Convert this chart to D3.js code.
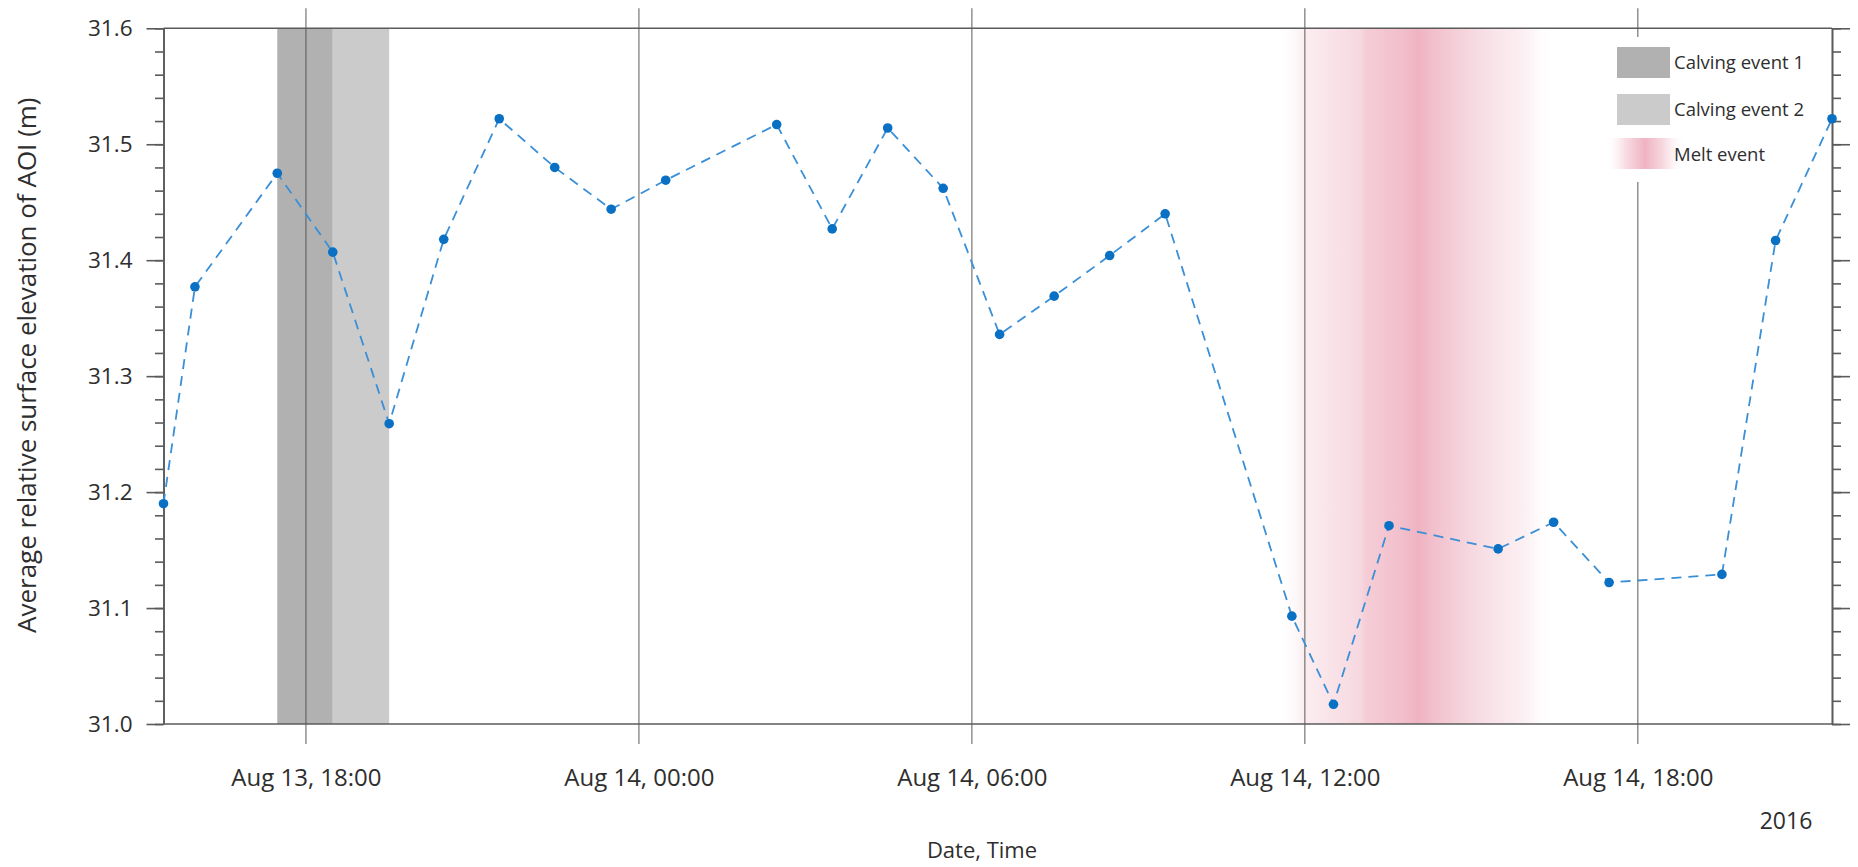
<!DOCTYPE html>
<html>
<head>
<meta charset="utf-8">
<script src="https://cdn.jsdelivr.net/npm/d3@7"></script>
<style>
  html, body { margin: 0; padding: 0; background: #fff; }
  svg { display: block; font-family: "Open Sans", "Noto Sans", sans-serif; }
</style>
</head>
<body>
<svg id="chart" width="1858" height="867"></svg>
<script>
// Observation times (UTC, 2016) and mean relative surface elevation of the AOI
const obsTimes = [
  "2016-08-13 15:26", "2016-08-13 16:00", "2016-08-13 17:29", "2016-08-13 18:29",
  "2016-08-13 19:30", "2016-08-13 20:29", "2016-08-13 21:29", "2016-08-13 22:29",
  "2016-08-13 23:30", "2016-08-14 00:29", "2016-08-14 02:29", "2016-08-14 03:29",
  "2016-08-14 04:29", "2016-08-14 05:29", "2016-08-14 06:30", "2016-08-14 07:29",
  "2016-08-14 08:29", "2016-08-14 09:29", "2016-08-14 11:46", "2016-08-14 12:31",
  "2016-08-14 13:31", "2016-08-14 15:29", "2016-08-14 16:29", "2016-08-14 17:29",
  "2016-08-14 19:31", "2016-08-14 20:29", "2016-08-14 21:30"
];
const elevation = [
  31.190, 31.377, 31.475, 31.407,
  31.259, 31.418, 31.522, 31.480,
  31.444, 31.469, 31.517, 31.427,
  31.514, 31.462, 31.336, 31.369,
  31.404, 31.440, 31.093, 31.017,
  31.171, 31.151, 31.174, 31.122,
  31.129, 31.417, 31.522
];

// Event windows
const calving1 = ["2016-08-13 17:29", "2016-08-13 18:29"];
const calving2 = ["2016-08-13 18:29", "2016-08-13 19:30"];
const meltWindow = ["2016-08-14 11:30", "2016-08-14 16:30"];

// Axis ticks
const xTickTimes = ["2016-08-13 18:00", "2016-08-14 00:00", "2016-08-14 06:00", "2016-08-14 12:00", "2016-08-14 18:00"];
const xTickLabels = ["Aug 13, 18:00", "Aug 14, 00:00", "Aug 14, 06:00", "Aug 14, 12:00", "Aug 14, 18:00"];
const yMajorTicks = [31.0, 31.1, 31.2, 31.3, 31.4, 31.5, 31.6];
const yMinorTicks = d3.range(0, 31).map(i => +(31 + i * 0.02).toFixed(2));

const legendLabels = ["Calving event 1", "Calving event 2", "Melt event"];

const parse = d3.timeParse("%Y-%m-%d %H:%M");
const data = obsTimes.map((t, i) => ({ t: parse(t), v: elevation[i] }));

const svg = d3.select("#chart");
const L = 163.5, R = 1832, T = 28.3, B = 724;

const x = d3.scaleTime().domain(d3.extent(data, d => d.t)).range([L, R]);
const y = d3.scaleLinear().domain([31.0, 31.6]).range([B, T]);

const axisColor = "#5b5b5b";
const textColor = "#2e2e2e";

// Melt gradient
const defs = svg.append("defs");
const meltGrad = defs.append("linearGradient").attr("id", "meltGrad")
  .attr("x1", "0%").attr("x2", "100%").attr("y1", "0%").attr("y2", "0%");
[
  [0.00, "#ffffff", 0], [0.10, "#fbedf0", 1], [0.30, "#f7d8e0", 1], [0.32, "#f5cdd7", 1],
  [0.45, "#f2bfcc", 1], [0.51, "#efb3c2", 1], [0.57, "#f2c1cd", 1], [0.66, "#f5d2db", 1],
  [0.77, "#f8e2e8", 1], [0.90, "#fcf1f4", 1], [1.00, "#ffffff", 0]
].forEach(([o, c, a]) => meltGrad.append("stop").attr("offset", o).attr("stop-color", c).attr("stop-opacity", a));

const legGrad = defs.append("linearGradient").attr("id", "legGrad")
  .attr("x1", "0%").attr("x2", "100%");
[
  [0.00, "#ffffff", 0], [0.25, "#f8dde4", 1], [0.50, "#efb3c2", 1], [0.75, "#f8dde4", 1], [1.00, "#ffffff", 0]
].forEach(([o, c, a]) => legGrad.append("stop").attr("offset", o).attr("stop-color", c).attr("stop-opacity", a));

// Event bands
const bands = svg.append("g");
bands.append("rect")
  .attr("x", x(parse(meltWindow[0]))).attr("width", x(parse(meltWindow[1])) - x(parse(meltWindow[0])))
  .attr("y", T).attr("height", B - T).attr("fill", "url(#meltGrad)");
bands.append("rect")
  .attr("x", x(parse(calving1[0]))).attr("width", x(parse(calving1[1])) - x(parse(calving1[0])))
  .attr("y", T).attr("height", B - T).attr("fill", "#b1b1b1");
bands.append("rect")
  .attr("x", x(parse(calving2[0]))).attr("width", x(parse(calving2[1])) - x(parse(calving2[0])))
  .attr("y", T).attr("height", B - T).attr("fill", "#cbcbcb");

// Vertical grid lines at the time ticks (they run a little past the frame)
svg.append("g").selectAll("line").data(xTickTimes.map(parse)).join("line")
  .attr("x1", d => x(d)).attr("x2", d => x(d))
  .attr("y1", T - 20).attr("y2", B + 20)
  .attr("stroke", "#555").attr("stroke-opacity", 0.65).attr("stroke-width", 1.5);

// Legend background hides the grid line behind it
svg.append("rect").attr("x", 1600).attr("y", 37).attr("width", 200).attr("height", 145).attr("fill", "#fff");

// Frame
const frame = svg.append("g").attr("stroke", axisColor).attr("stroke-width", 1.6);
frame.append("line").attr("x1", L).attr("x2", R).attr("y1", T).attr("y2", T);
frame.append("line").attr("x1", L).attr("x2", R).attr("y1", B).attr("y2", B);

// Y axes: major and minor ticks on both sides
function styleAxis(g) {
  g.selectAll(".domain").attr("stroke", axisColor).attr("stroke-width", 1.6);
  g.selectAll(".tick line").attr("stroke", axisColor).attr("stroke-width", 1.6);
}
svg.append("g").attr("transform", `translate(${L},0)`)
  .call(d3.axisLeft(y).tickValues(yMinorTicks).tickSize(8.5).tickFormat("").tickSizeOuter(0))
  .call(styleAxis);
svg.append("g").attr("transform", `translate(${R},0)`)
  .call(d3.axisRight(y).tickValues(yMinorTicks).tickSize(9).tickFormat("").tickSizeOuter(0))
  .call(styleAxis);
const yLeft = svg.append("g").attr("transform", `translate(${L},0)`)
  .call(d3.axisLeft(y).tickValues(yMajorTicks).tickSize(17).tickPadding(14).tickFormat(d3.format(".1f")).tickSizeOuter(0))
  .call(styleAxis);
yLeft.selectAll("text").attr("fill", textColor).attr("font-size", 22.5).attr("font-family", "Open Sans");
svg.append("g").attr("transform", `translate(${R},0)`)
  .call(d3.axisRight(y).tickValues(yMajorTicks).tickSize(18).tickFormat("").tickSizeOuter(0))
  .call(styleAxis);

// X axis labels
const xAxis = svg.append("g").attr("transform", `translate(0,${B})`)
  .call(d3.axisBottom(x).tickValues(xTickTimes.map(parse))
    .tickFormat((d, i) => xTickLabels[i]).tickSize(0).tickPadding(45));
xAxis.select(".domain").remove();
xAxis.selectAll("text").attr("fill", textColor).attr("font-size", 24).attr("font-family", "Open Sans");

// Data series: dashed line with dots
svg.append("path").datum(data)
  .attr("d", d3.line().x(d => x(d.t)).y(d => y(d.v)))
  .attr("fill", "none").attr("stroke", "#3a8fd6").attr("stroke-width", 1.8)
  .attr("stroke-dasharray", "10,7");
svg.append("g").selectAll("circle").data(data).join("circle")
  .attr("cx", d => x(d.t)).attr("cy", d => y(d.v)).attr("r", 4.8).attr("fill", "#0a70c4");

// Legend
const leg = svg.append("g").attr("font-size", 18.5).attr("fill", textColor);
leg.append("rect").attr("x", 1617).attr("y", 47).attr("width", 53).attr("height", 31).attr("fill", "#b1b1b1");
leg.append("rect").attr("x", 1617).attr("y", 94).attr("width", 53).attr("height", 31).attr("fill", "#cbcbcb");
leg.append("rect").attr("x", 1605).attr("y", 138).attr("width", 80).attr("height", 31).attr("fill", "url(#legGrad)");
legendLabels.forEach((t, i) => {
  leg.append("text").attr("x", 1674).attr("y", [69, 116, 161][i]).text(t);
});

// Axis titles
svg.append("text").attr("x", 982).attr("y", 858).attr("text-anchor", "middle")
  .attr("font-size", 22).attr("fill", textColor).text("Date, Time");
svg.append("text").attr("transform", "translate(36,633) rotate(-90)")
  .attr("font-size", 26).attr("fill", textColor)
  .text("Average relative surface elevation of AOI (m)");
svg.append("text").attr("x", 1786).attr("y", 829).attr("text-anchor", "middle")
  .attr("font-size", 23).attr("fill", textColor).text("2016");
</script>
</body>
</html>
